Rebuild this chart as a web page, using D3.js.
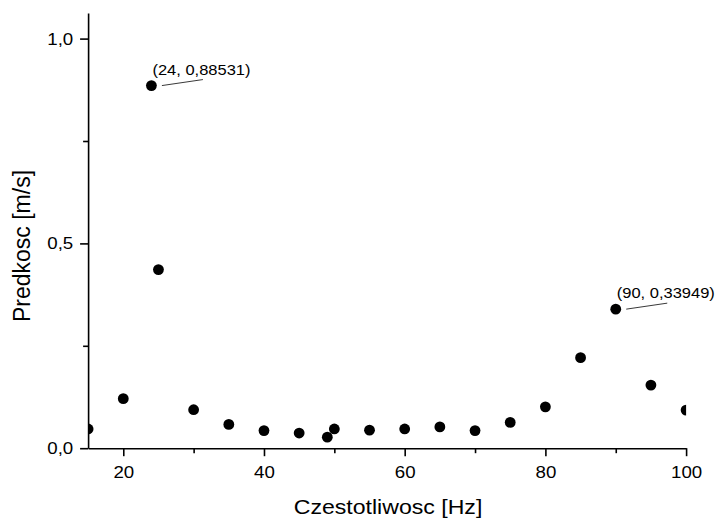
<!DOCTYPE html>
<html>
<head>
<meta charset="utf-8">
<script src="https://cdn.jsdelivr.net/npm/d3@7"></script>
<style>
  html, body { margin: 0; padding: 0; background: #fff; }
  svg { display: block; font-family: "Liberation Sans", Arial, sans-serif; }
</style>
</head>
<body>
<svg id="chart" width="718" height="519"></svg>
<script>
// Frequency sweep: measured speed at each excitation frequency
const frequency = [15, 20, 24, 25, 30, 35, 40, 45, 49, 50, 55, 60, 65, 70, 75, 80, 85, 90, 95, 100];
const speed = [0.047, 0.121, 0.88531, 0.436, 0.094, 0.058, 0.043, 0.037, 0.027, 0.047,
               0.044, 0.047, 0.052, 0.043, 0.063, 0.101, 0.221, 0.33949, 0.154, 0.093];

// Points carrying a value label
const labelledFreq = [24, 90];

const xMajorTicks = [20, 40, 60, 80, 100];
const xMinorTicks = [30, 50, 70, 90];
const yMajorTicks = [0, 0.5, 1.0];
const yMinorTicks = [0.25, 0.75];

const xTitle = "Czestotliwosc [Hz]";
const yTitle = "Predkosc [m/s]";

const svg = d3.select("#chart");
const plotLeft = 88.1, plotRight = 686.1, plotBottom = 448.2, plotTop = 13;
const stretch = "scale(1.1,1)";

const x = d3.scaleLinear().domain([15, 100]).range([plotLeft, plotRight]);
const y = d3.scaleLinear().domain([0, 1.0625]).range([plotBottom, plotTop]);

const comma = v => d3.format(".1f")(v).replace(".", ",");
const commaFull = v => String(v).replace(".", ",");

// Minor ticks
svg.append("g")
  .attr("transform", `translate(0,${plotBottom})`)
  .call(d3.axisBottom(x).tickValues(xMinorTicks).tickSize(5).tickSizeOuter(0).tickFormat(""))
  .call(g => g.select(".domain").remove())
  .selectAll("line").attr("stroke", "#000").attr("stroke-width", 1.6);

svg.append("g")
  .attr("transform", `translate(${plotLeft},0)`)
  .call(d3.axisLeft(y).tickValues(yMinorTicks).tickSize(5).tickSizeOuter(0).tickFormat(""))
  .call(g => g.select(".domain").remove())
  .selectAll("line").attr("stroke", "#000").attr("stroke-width", 1.6);

// Major axes
const xAxis = svg.append("g")
  .attr("transform", `translate(0,${plotBottom})`)
  .call(d3.axisBottom(x).tickValues(xMajorTicks).tickSize(8).tickSizeOuter(0));
xAxis.select(".domain").attr("stroke", "#000").attr("stroke-width", 1.6);
xAxis.selectAll(".tick line").attr("stroke", "#000").attr("stroke-width", 1.6);
xAxis.selectAll(".tick text")
  .attr("y", 30).attr("dy", 0)
  .attr("transform", stretch)
  .attr("fill", "#000")
  .style("font-size", "17px")
  .style("font-family", "'Liberation Sans', Arial, sans-serif");

const yAxis = svg.append("g")
  .attr("transform", `translate(${plotLeft},0)`)
  .call(d3.axisLeft(y).tickValues(yMajorTicks).tickSize(8).tickSizeOuter(0).tickFormat(comma));
yAxis.select(".domain").attr("stroke", "#000").attr("stroke-width", 1.6);
yAxis.selectAll(".tick line").attr("stroke", "#000").attr("stroke-width", 1.6);
yAxis.selectAll(".tick text")
  .attr("x", -13.5)
  .attr("transform", stretch)
  .attr("fill", "#000")
  .style("font-size", "17px")
  .style("font-family", "'Liberation Sans', Arial, sans-serif");

// Axis titles
svg.append("text")
  .attr("transform", `translate(388,514) ${stretch}`)
  .attr("text-anchor", "middle")
  .attr("font-size", 21)
  .attr("fill", "#000")
  .text(xTitle);

svg.append("text")
  .attr("transform", "translate(29.5,246) rotate(-90)")
  .attr("text-anchor", "middle")
  .attr("font-size", 23)
  .attr("fill", "#000")
  .text(yTitle);

// Scatter points, clipped to the plot area
svg.append("clipPath").attr("id", "plot-clip")
  .append("rect")
  .attr("x", plotLeft).attr("y", 0)
  .attr("width", plotRight - plotLeft).attr("height", plotBottom + 6);

svg.append("g")
  .attr("clip-path", "url(#plot-clip)")
  .selectAll("circle")
  .data(frequency.map((f, i) => ({ f, v: speed[i] })))
  .join("circle")
  .attr("cx", d => x(d.f))
  .attr("cy", d => y(d.v))
  .attr("r", 5.4)
  .attr("fill", "#000");

// Value labels with leader lines
const labelled = labelledFreq.map(f => ({ f, v: speed[frequency.indexOf(f)] }));
const ann = svg.append("g").selectAll("g").data(labelled).join("g")
  .attr("transform", d => `translate(${x(d.f)},${y(d.v)})`);

ann.append("line")
  .attr("x1", 10.5).attr("y1", 0)
  .attr("x2", 51.5).attr("y2", -6)
  .attr("stroke", "#222").attr("stroke-width", 0.9);

ann.append("text")
  .attr("transform", `translate(1,-11) ${stretch}`)
  .attr("font-size", 15)
  .attr("fill", "#000")
  .text(d => `(${d.f}, ${commaFull(d.v)})`);
</script>
</body>
</html>
